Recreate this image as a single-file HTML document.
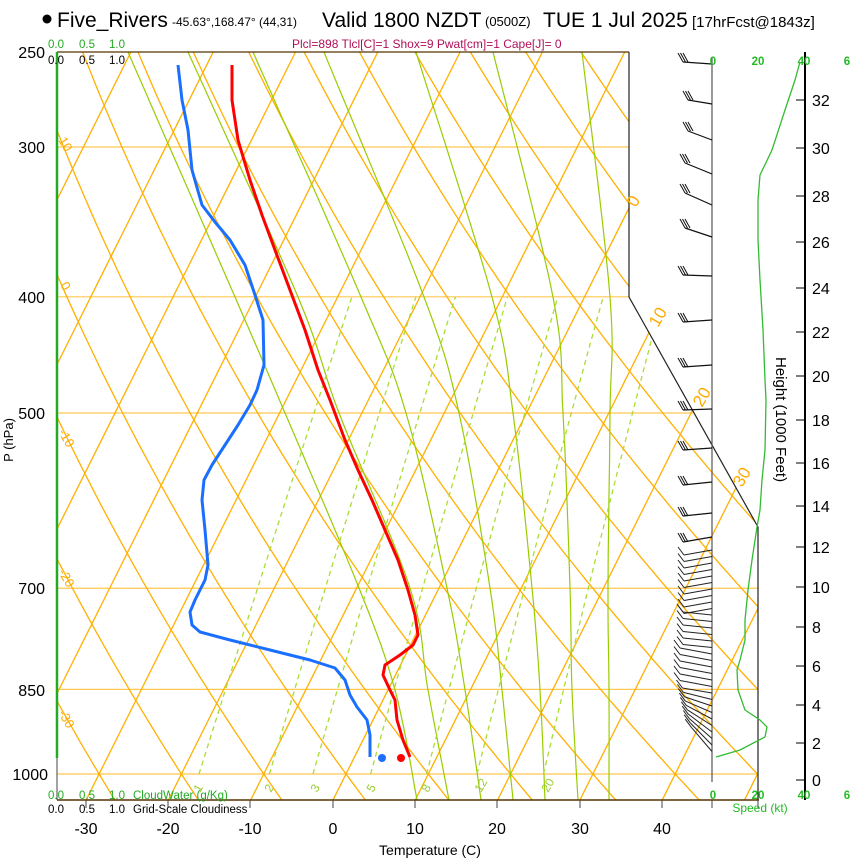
<!DOCTYPE html>
<html><head><meta charset="utf-8">
<style>
html,body{margin:0;padding:0;background:#fff;}
body{width:850px;height:860px;overflow:hidden;font-family:"Liberation Sans",sans-serif;}
svg text{font-family:"Liberation Sans",sans-serif;}
</style></head>
<body>
<svg id="s" width="850" height="860" viewBox="0 0 850 860" xmlns="http://www.w3.org/2000/svg">
<defs>
<clipPath id="cp"><polygon points="57,52 629,52 629,297 758,527 758,800 57,800"/></clipPath>
</defs>
<g id="grid" clip-path="url(#cp)"></g>
<g id="fg"></g>
<!-- Title -->
<circle cx="47" cy="19" r="4.5" fill="#000"/>
<text x="57" y="27" font-size="21">Five_Rivers</text>
<text x="172" y="26" font-size="12">-45.63°,168.47° (44,31)</text>
<text x="322" y="27" font-size="21">Valid 1800 NZDT</text>
<text x="485" y="26" font-size="13">(0500Z)</text>
<text x="543" y="27" font-size="21">TUE 1 Jul 2025</text>
<text x="692" y="27" font-size="15">[17hrFcst@1843z]</text>
<text x="292" y="48" font-size="12" fill="#b0105a">Plcl=898 Tlcl[C]=1 Shox=9 Pwat[cm]=1 Cape[J]= 0</text>
<!-- cloud scales -->
<g font-size="11.5">
<text x="48" y="48" fill="#22aa22">0.0</text><text x="79" y="48" fill="#22aa22">0.5</text><text x="109" y="48" fill="#22aa22">1.0</text>
<text x="48" y="64" fill="#000">0.0</text><text x="79" y="64" fill="#000">0.5</text><text x="109" y="64" fill="#000">1.0</text>
<text x="48" y="799" fill="#22aa22">0.0</text><text x="79" y="799" fill="#22aa22">0.5</text><text x="109" y="799" fill="#22aa22">1.0</text>
<text x="133" y="799" fill="#22aa22">CloudWater (g/Kg)</text>
<text x="48" y="813" fill="#000">0.0</text><text x="79" y="813" fill="#000">0.5</text><text x="109" y="813" fill="#000">1.0</text>
<text x="133" y="813" fill="#000">Grid-Scale Cloudiness</text>
</g>
<!-- pressure labels -->
<g font-size="16" text-anchor="end">
<text x="45" y="58">250</text><text x="45" y="153">300</text><text x="45" y="303">400</text>
<text x="45" y="419">500</text><text x="45" y="594">700</text><text x="45" y="696">850</text><text x="48" y="780">1000</text>
</g>
<text transform="translate(13,440) rotate(-90)" font-size="13" text-anchor="middle">P (hPa)</text>
<!-- temperature labels -->
<g font-size="16" text-anchor="middle">
<text x="86" y="834">-30</text><text x="168" y="834">-20</text><text x="250" y="834">-10</text>
<text x="333" y="834">0</text><text x="415" y="834">10</text><text x="497" y="834">20</text>
<text x="580" y="834">30</text><text x="662" y="834">40</text>
</g>
<text x="430" y="855" font-size="14" text-anchor="middle">Temperature (C)</text>
<!-- theta labels left -->
<g font-size="13" fill="#ffaa00">
<text transform="translate(58,140) rotate(60)">10</text>
<text transform="translate(60,285) rotate(60)">0</text>
<text transform="translate(58,432) rotate(60)">-10</text>
<text transform="translate(58,572) rotate(60)">-20</text>
<text transform="translate(58,713) rotate(60)">-30</text>
</g>
<!-- isotherm labels right -->
<g font-size="17" fill="#ffaa00">
<text transform="translate(636,208) rotate(-60)">0</text>
<text transform="translate(658,328) rotate(-60)">10</text>
<text transform="translate(702,408) rotate(-60)">20</text>
<text transform="translate(742,488) rotate(-60)">30</text>
</g>
<!-- mixing ratio labels -->
<g font-size="12" fill="#99cc33">
<text transform="translate(200,793) rotate(-60)">1</text>
<text transform="translate(271,793) rotate(-60)">2</text>
<text transform="translate(317,793) rotate(-60)">3</text>
<text transform="translate(373,793) rotate(-60)">5</text>
<text transform="translate(428,793) rotate(-60)">8</text>
<text transform="translate(481,793) rotate(-60)">12</text>
<text transform="translate(548,793) rotate(-60)">20</text>
</g>
<!-- speed labels -->
<g font-size="11.5" fill="#22bb22" font-weight="bold" text-anchor="middle">
<text x="713" y="65">0</text><text x="758" y="65">20</text><text x="804" y="65">40</text><text x="847" y="65">6</text>
<text x="713" y="799">0</text><text x="758" y="799">20</text><text x="804" y="799">40</text><text x="847" y="799">6</text>
</g>
<text x="760" y="812" font-size="12" fill="#22bb22" text-anchor="middle">Speed (kt)</text>
<!-- height labels -->
<g font-size="16" id="hl"></g>
<text transform="translate(776,357) rotate(90)" font-size="15">Height (1000 Feet)</text>
</svg>
<script>
(function(){
var NS="http://www.w3.org/2000/svg";
var grid=document.getElementById('grid'),fg=document.getElementById('fg');
function el(par,tag,attrs){var e=document.createElementNS(NS,tag);for(var k in attrs)e.setAttribute(k,attrs[k]);par.appendChild(e);return e;}
function Y(p){return 774-520.8*Math.log(1000/p);}
function X(T,p){return 333+8.23*T+0.5*(800-Y(p));}
function pts(arr){return arr.map(function(a){return a[0].toFixed(1)+','+a[1].toFixed(1);}).join(' ');}
var OR='#ffb000';
// pressure lines
[[300,629],[400,629],[500,693],[700,758],[850,758],[1000,758]].forEach(function(a){
  el(grid,'line',{x1:57,x2:a[1],y1:Y(a[0]),y2:Y(a[0]),stroke:'#ffc850','stroke-width':1.2});
});
// isotherms
for(var T=-130;T<=60;T+=10){
  el(grid,'line',{x1:X(T,1060),y1:Y(1060),x2:X(T,240),y2:Y(240),stroke:OR,'stroke-width':1.3});
}
// dry adiabats
for(var th=-60;th<=150;th+=10){
  var a=[];for(var p=1060;p>=240;p-=10){var t=(th+273.15)*Math.pow(p/1000,0.2857)-273.15;a.push([X(t,p),Y(p)]);}
  el(grid,'polyline',{points:pts(a),fill:'none',stroke:OR,'stroke-width':1.3});
}
// moist adiabats (empirical)
var ys=[52,297,413,588,690,800];
var ml=[[128,235,285,359,395,417],[188,298,339,410,428,449],[253,361,406,447,465,481],[324,424,459,490,502,513],[416,492,513,532,540,545],[493,553,563,570,572,578],[582,610,610,608,609,609]];
function cr(P){ // catmull-rom smoothing
  var out=[];for(var i=0;i<P.length-1;i++){var p0=P[Math.max(i-1,0)],p1=P[i],p2=P[i+1],p3=P[Math.min(i+2,P.length-1)];
    for(var t=0;t<1;t+=0.1){var t2=t*t,t3=t2*t;
      out.push([0.5*((2*p1[0])+(-p0[0]+p2[0])*t+(2*p0[0]-5*p1[0]+4*p2[0]-p3[0])*t2+(-p0[0]+3*p1[0]-3*p2[0]+p3[0])*t3),
                0.5*((2*p1[1])+(-p0[1]+p2[1])*t+(2*p0[1]-5*p1[1]+4*p2[1]-p3[1])*t2+(-p0[1]+3*p1[1]-3*p2[1]+p3[1])*t3)]);}}
  out.push(P[P.length-1]);return out;}
ml.forEach(function(xs){var P=xs.map(function(x,i){return [x,ys[i]];});
  el(grid,'polyline',{points:pts(cr(P)),fill:'none',stroke:'#99cc00','stroke-width':1.2});});
// mixing ratio
[1,2,3,5,8,12,20].forEach(function(w){
  var a=[];for(var p=1000;p>=400;p-=20){var e=w/1000*p/(0.622+w/1000);var l=Math.log(e/6.112);var td=243.5*l/(17.67-l);a.push([X(td,p)-6,Y(p)]);}
  el(grid,'polyline',{points:pts(a),fill:'none',stroke:'#aadd33','stroke-width':1.3,'stroke-dasharray':'5,4'});
});
// frame
el(fg,'line',{x1:57,y1:52,x2:629,y2:52,stroke:'#553300','stroke-width':1.2});
el(fg,'polyline',{points:'629,52 629,297 758,527 758,800',fill:'none',stroke:'#222','stroke-width':1.2});
el(fg,'line',{x1:57,y1:800,x2:759,y2:800,stroke:'#553300','stroke-width':1.4});
[86,168,250,333,415,497,580,662,712,758].forEach(function(x){el(fg,'line',{x1:x,y1:800,x2:x,y2:808,stroke:'#444'});});
el(fg,'line',{x1:57,y1:52,x2:57,y2:758,stroke:'#22aa22','stroke-width':2.5});
el(fg,'line',{x1:57,y1:758,x2:57,y2:800,stroke:'#444','stroke-width':1});
el(fg,'line',{x1:712,y1:57,x2:712,y2:782,stroke:'#555','stroke-width':1.2});
// height axis
el(fg,'line',{x1:805,y1:52,x2:805,y2:800,stroke:'#000','stroke-width':2});
var hl=document.getElementById('hl');
var hy={0:780,2:743,4:705,6:666,8:627,10:587,12:547,14:506,16:463,18:420,20:376,22:332,24:288,26:242,28:196,30:148,32:100};
for(var h in hy){el(fg,'line',{x1:796,x2:805,y1:hy[h],y2:hy[h],stroke:'#000'});var t=el(hl,'text',{x:812,y:hy[h]+6});t.textContent=h;}
// speed profile
el(fg,'polyline',{points:'800,62 795,80 785,110 772,150 760,175 758,200 758,240 760,280 763,330 765,380 766,400 765,450 762,480 760,510 757,527 752,560 748,590 745,620 745,640 740,660 737,670 738,690 745,710 760,720 767,727 765,737 740,750 716,757',fill:'none',stroke:'#33bb33','stroke-width':1.3});
// wind barbs upper
var ub=[[64,683,62],[104,688,100],[140,688,131],[174,685,163],[205,685,193],[237,685,228],[276,683,275],[320,683,322],[365,683,367],[409,683,410],[448,683,450],[482,683,485],[513,683,516],[537,683,542]];
ub.forEach(function(b){
  el(fg,'line',{x1:712,y1:b[0],x2:b[1],y2:b[2],stroke:'#111','stroke-width':1.2});
  for(var i=0;i<3;i++){var bx=b[1]+i*2.5,by=b[2];el(fg,'line',{x1:bx,y1:by,x2:bx-5,y2:by-9,stroke:'#111','stroke-width':1});}
});
// lower barbs
for(var y=550;y<=757;y+=6.5){
  var ex,ey;
  if(y<610){ex=684;ey=y+5;}else if(y<650){ex=683;ey=y-3;}else if(y<690){ex=680;ey=y-6;}else{ex=682+(y-690)*0.15;ey=y-(y-690)*0.33-4;}
  el(fg,'line',{x1:712,y1:y,x2:ex,y2:ey,stroke:'#222','stroke-width':1});
  el(fg,'line',{x1:ex,y1:ey,x2:ex-6,y2:ey-8,stroke:'#222','stroke-width':1});
}
// temperature / dewpoint
el(fg,'polyline',{points:'232,65 232,100 238,140 250,180 262,215 275,250 290,290 305,330 318,370 330,400 345,440 358,470 372,500 385,530 398,560 408,590 415,615 418,635 413,645 400,655 385,665 383,675 390,690 395,700 397,720 403,740 410,757',fill:'none',stroke:'#ff0000','stroke-width':3,'stroke-linejoin':'round'});
el(fg,'polyline',{points:'178,65 182,100 188,130 192,170 202,205 215,222 230,240 245,265 255,295 263,320 264,365 257,390 250,405 238,425 225,445 212,465 204,480 202,500 205,530 208,565 205,580 195,600 190,612 192,625 200,632 230,640 270,650 310,660 335,668 345,680 350,695 357,707 367,720 370,735 370,757',fill:'none',stroke:'#1a6fff','stroke-width':3,'stroke-linejoin':'round'});
el(fg,'circle',{cx:401,cy:758,r:4,fill:'#ff0000'});
el(fg,'circle',{cx:382,cy:758,r:4,fill:'#1a6fff'});
})();
</script>
</body></html>
